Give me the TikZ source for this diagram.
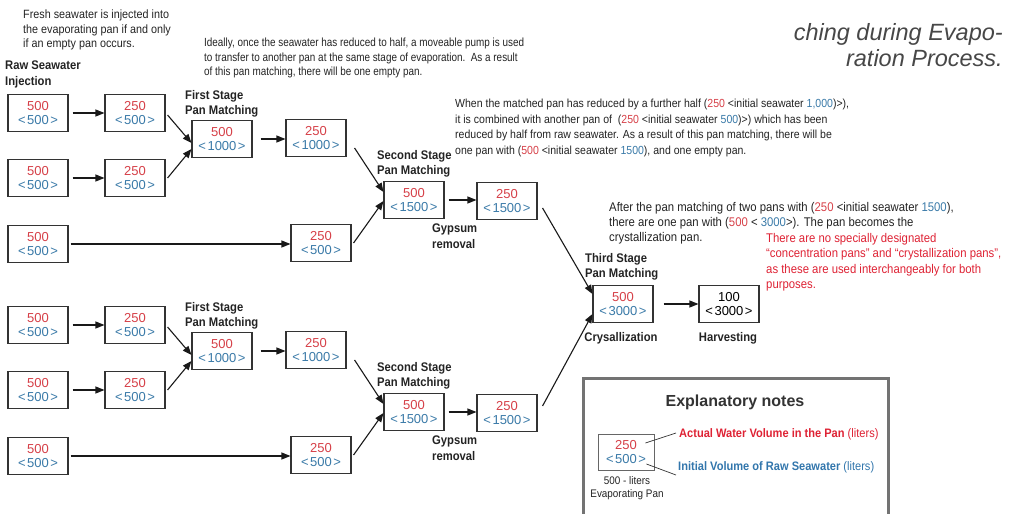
\documentclass[tikz,border=0pt]{standalone}
\usepackage{fontspec}
\setmainfont{Liberation Sans}
\newfontfamily\nar[FakeStretch=0.9]{Liberation Sans}
\newfontfamily\narr[FakeStretch=0.84]{Liberation Sans}
\usetikzlibrary{arrows.meta}
\definecolor{nred}{RGB}{214,64,72}
\definecolor{nblue}{RGB}{58,122,168}
\definecolor{lred}{RGB}{222,34,52}
\definecolor{lblue}{RGB}{50,118,172}
\definecolor{txt}{RGB}{35,35,35}
\newcommand\panv[2]{{\color{nred}#1}\\[-1pt]{\color{nblue}<\kern1.5pt#2\kern1.5pt>}}
\tikzset{
  pan/.style={draw=black!80, line width=1.1pt, fill=white, minimum width=60, minimum height=37,
    inner sep=0pt, align=center, font=\fontsize{13}{14.5}\selectfont},
  arr/.style={-{Triangle[length=9pt,width=7pt]}, line width=1.1pt, black!90},
  note/.style={font=\nar\fontsize{12}{14.5}\selectfont, align=left, inner sep=0pt, anchor=north west, text=txt},
  lab/.style={font=\nar\bfseries\fontsize{12.5}{15.5}\selectfont, align=left, inner sep=0pt, anchor=north west, text=txt},
  captxt/.style={font=\itshape\fontsize{23.5}{26}\selectfont, inner sep=0pt, anchor=base east, text=black!72},
}
\begin{document}
\begin{tikzpicture}[x=1pt,y=-1pt]
\useasboundingbox (0,0) rectangle (1010,514);

% caption fragment
\node[captxt] (cap1) at (1003,40) {ching during Evapo-};
\node[captxt] (cap2) at (1003,66) {ration Process.};

% notes
\node[note] (n1) at (23,10) {Fresh seawater is injected into\\the evaporating pan if and only\\if an empty pan occurs.};
\node[note, font=\narr\fontsize{11.8}{14.5}\selectfont] (n2) at (204,38) {Ideally, once the seawater has reduced to half, a moveable pump is used\\to transfer to another pan at the same stage of evaporation.\ \ As a result\\of this pan matching, there will be one empty pan.};
\node[note, font=\nar\fontsize{11.7}{15.5}\selectfont] (n3) at (455,99) {When the matched pan has reduced by a further half ({\color{nred}250} <initial seawater {\color{nblue}1,000})>),\\it is combined with another pan of \ ({\color{nred}250} <initial seawater {\color{nblue}500})>) which has been\\reduced by half from raw seawater. As a result of this pan matching, there will be\\one pan with ({\color{nred}500} <initial seawater {\color{nblue}1500}), and one empty pan.};
\node[note, font=\nar\fontsize{12.6}{15}\selectfont] (n4) at (609,202) {After the pan matching of two pans with ({\color{nred}250} <initial seawater {\color{nblue}1500}),\\there are one pan with ({\color{nred}500} < {\color{nblue}3000}>). The pan becomes the\\crystallization pan.};
\node[note, font=\nar\fontsize{12.6}{15.5}\selectfont, text=lred] (n5) at (766,233) {There are no specially designated\\“concentration pans” and “crystallization pans”,\\as these are used interchangeably for both\\purposes.};

% labels
\node[lab] (l0) at (5,61) {Raw Seawater\\Injection};
\node[lab] (l1) at (185,90) {First Stage\\Pan Matching};
\node[lab] (l2) at (377,150) {Second Stage\\Pan Matching};
\node[lab] (l3) at (432,224) {Gypsum\\removal};
\node[lab] (l4) at (185,302) {First Stage\\Pan Matching};
\node[lab] (l5) at (377,362) {Second Stage\\Pan Matching};
\node[lab] (l6) at (432,436) {Gypsum\\removal};
\node[lab] (l7) at (585,253) {Third Stage\\Pan Matching};
\node[lab, anchor=center] (l8) at (621,338) {Crysallization};
\node[lab, anchor=center] (l9) at (728,338) {Harvesting};

% pans, upper group
\node[pan] (a1) at (38,113) {\panv{500}{500}};
\node[pan] (b1) at (135,113) {\panv{250}{500}};
\node[pan] (a2) at (38,178) {\panv{500}{500}};
\node[pan] (b2) at (135,178) {\panv{250}{500}};
\node[pan] (a3) at (38,244) {\panv{500}{500}};
\node[pan] (c1) at (222,139) {\panv{500}{1000}};
\node[pan] (d1) at (316,138) {\panv{250}{1000}};
\node[pan] (e1) at (321,243) {\panv{250}{500}};
\node[pan] (f1) at (414,200) {\panv{500}{1500}};
\node[pan] (g1) at (507,201) {\panv{250}{1500}};
% pans, lower group
\node[pan] (a4) at (38,325) {\panv{500}{500}};
\node[pan] (b4) at (135,325) {\panv{250}{500}};
\node[pan] (a5) at (38,390) {\panv{500}{500}};
\node[pan] (b5) at (135,390) {\panv{250}{500}};
\node[pan] (a6) at (38,456) {\panv{500}{500}};
\node[pan] (c2) at (222,351) {\panv{500}{1000}};
\node[pan] (d2) at (316,350) {\panv{250}{1000}};
\node[pan] (e2) at (321,455) {\panv{250}{500}};
\node[pan] (f2) at (414,412) {\panv{500}{1500}};
\node[pan] (g2) at (507,413) {\panv{250}{1500}};
% third stage
\node[pan] (h) at (623,304) {\panv{500}{3000}};
\node[pan] (i) at (729,304) {100\\[-1pt]<\kern1.5pt3000\kern1.5pt>};

% connectors upper
\draw[arr, shorten <=4pt] (a1) -- (b1);
\draw[arr, shorten <=4pt] (a2) -- (b2);
\draw[arr, shorten <=2pt] (a3) -- (e1.west |- a3);
\draw[arr] ([xshift=2pt,yshift=-2pt]b1.east) -- ([yshift=-4pt]c1.west);
\draw[arr] ([xshift=2pt]b2.east) -- ([yshift=-10pt]c1.west);
\draw[arr, shorten <=8pt] (c1) -- (d1.west |- c1);
\draw[arr] ([xshift=8pt,yshift=-10pt]d1.east) -- ([yshift=8pt]f1.west);
\draw[arr] ([xshift=2pt]e1.east) -- ([yshift=-1pt]f1.west);
\draw[arr, shorten <=4pt] (f1) -- (g1.west |- f1);
% connectors lower
\draw[arr, shorten <=4pt] (a4) -- (b4);
\draw[arr, shorten <=4pt] (a5) -- (b5);
\draw[arr, shorten <=2pt] (a6) -- (e2.west |- a6);
\draw[arr] ([xshift=2pt,yshift=-2pt]b4.east) -- ([yshift=-4pt]c2.west);
\draw[arr] ([xshift=2pt]b5.east) -- ([yshift=-10pt]c2.west);
\draw[arr, shorten <=8pt] (c2) -- (d2.west |- c2);
\draw[arr] ([xshift=8pt,yshift=-10pt]d2.east) -- ([yshift=8pt]f2.west);
\draw[arr] ([xshift=2pt]e2.east) -- ([yshift=-1pt]f2.west);
\draw[arr, shorten <=4pt] (f2) -- (g2.west |- f2);
% to third stage
\draw[arr] ([xshift=5pt,yshift=-7pt]g1.east) -- ([yshift=10pt]h.west);
\draw[arr] ([xshift=5pt,yshift=7pt]g2.east) -- ([yshift=-10pt]h.west);
\draw[arr, shorten <=10pt] (h) -- (i);

% explanatory notes
\draw[line width=3pt, black!55] (583,514) -- (583,378) -- (888,378) -- (888,514);
\node[font=\bfseries\fontsize{16}{18}\selectfont, text=black!80, inner sep=0pt] (et) at (735,402) {Explanatory notes};
\node[pan, minimum width=56, minimum height=36, line width=0.9pt, draw=black!60] (lb) at (626,452) {\panv{250}{500}};
\node[font=\nar\fontsize{11}{13.5}\selectfont, align=center, inner sep=0pt, text=txt] (lt) at (627,488) {500 - liters\\Evaporating Pan};
\node[font=\nar\fontsize{12.3}{14}\selectfont, inner sep=0pt, anchor=west, text=lred] (lr) at (679,434) {\textbf{Actual Water Volume in the Pan} (liters)};
\node[font=\nar\fontsize{12.3}{14}\selectfont, inner sep=0pt, anchor=west, text=lblue] (lu) at (678,467) {\textbf{Initial Volume of Raw Seawater} (liters)};
\draw[line width=0.7pt, black!80] ([xshift=-9pt,yshift=9pt]lb.east) -- ([xshift=-3pt,yshift=1pt]lr.west);
\draw[line width=0.7pt, black!80] ([xshift=-8pt,yshift=-12pt]lb.east) -- ([xshift=-2pt,yshift=-8pt]lu.west);
\end{tikzpicture}
\end{document}
